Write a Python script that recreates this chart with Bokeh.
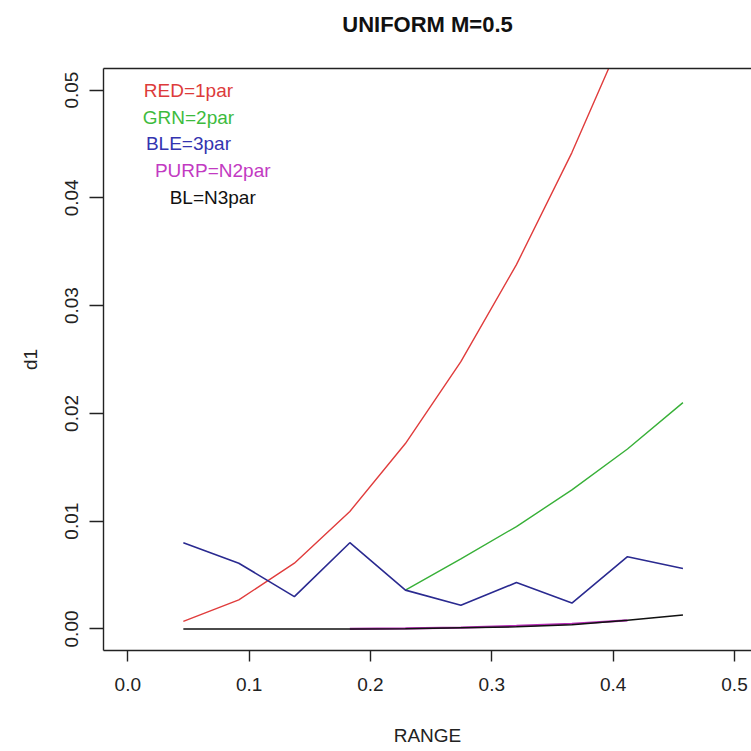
from bokeh.plotting import figure
from bokeh.models import Range1d, LinearAxis, FixedTicker, PrintfTickFormatter, ColumnDataSource, Title
from bokeh.core.properties import value
from bokeh.embed import file_html
from bokeh.resources import INLINE

# ---- data ----
range_x = [0.0458, 0.0915, 0.1373, 0.1830, 0.2288, 0.2745, 0.3203, 0.3660, 0.4118, 0.4575]
red_1par = [0.0007, 0.0027, 0.0061, 0.0109, 0.0172, 0.0248, 0.0338, 0.0442, 0.0560, 0.0690]
blue_3par = [0.0080, 0.0061, 0.0030, 0.0080, 0.0036, 0.0022, 0.0043, 0.0024, 0.0067, 0.0056]
green_x = [0.2288, 0.2745, 0.3203, 0.3660, 0.4118, 0.4575]
green_2par = [0.0036, 0.0065, 0.0095, 0.0129, 0.0167, 0.0210]
purple_x = [0.1830, 0.2288, 0.2745, 0.3203, 0.3660, 0.4118]
purple_n2par = [0.0000, 0.00005, 0.00012, 0.00028, 0.00048, 0.0008]
black_n3par = [0.0, 0.0, 0.0, 0.0, 0.00002, 0.0001, 0.0002, 0.0004, 0.0008, 0.0013]

x_ticks = [0.0, 0.1, 0.2, 0.3, 0.4, 0.5]
y_ticks = [0.0, 0.01, 0.02, 0.03, 0.04, 0.05]

title_text = "UNIFORM M=0.5"
legend_labels = ["RED=1par", "GRN=2par", "BLE=3par", "PURP=N2par", "BL=N3par"]
legend_x = [0.05, 0.05, 0.05, 0.07, 0.07]
legend_y = [0.05, 0.0475, 0.045, 0.0425, 0.04]
legend_colors = ["#dd3b3b", "#3dbb3d", "#3434b0", "#c23ac2", "#111111"]

FONT = "Liberation Sans"

p = figure(width=751, height=751, output_backend="svg", toolbar_location=None,
           x_range=Range1d(-0.02, 0.514), y_range=Range1d(-0.002, 0.052),
           min_border_left=103, min_border_right=0, min_border_top=68, min_border_bottom=101)
p.outline_line_color = None
p.xgrid.visible = False
p.ygrid.visible = False
p.background_fill_color = "white"
p.border_fill_color = "white"

p.title.text = title_text
p.title.align = "center"
p.title.text_font = FONT
p.title.text_font_size = "22px"
p.title.text_font_style = "bold"
p.title.text_color = "#111111"
p.title.standoff = 0

for ax, ticks, fmt, lab, tick_len in ((p.xaxis[0], x_ticks, "%.1f", "RANGE", 11),
                                      (p.yaxis[0], y_ticks, "%.2f", "d1", 14)):
    ax.ticker = FixedTicker(ticks=ticks)
    ax.formatter = PrintfTickFormatter(format=fmt)
    ax.major_tick_out = tick_len
    ax.major_tick_in = 0
    ax.minor_tick_out = 0
    ax.minor_tick_in = 0
    ax.axis_line_color = "#222222"
    ax.axis_line_width = 1.4
    ax.major_tick_line_color = "#222222"
    ax.major_tick_line_width = 1.4
    ax.major_label_text_font = FONT
    ax.major_label_text_font_size = "19px"
    ax.major_label_text_color = "#222222"
    ax.axis_label = lab
    ax.axis_label_text_font = FONT
    ax.axis_label_text_font_size = "19px"
    ax.axis_label_text_font_style = "normal"
    ax.axis_label_text_color = "#222222"

p.xaxis.major_label_standoff = 16
p.xaxis.axis_label_standoff = 31
p.yaxis.major_label_standoff = 11
p.yaxis.axis_label_standoff = 22
p.yaxis.major_label_orientation = "vertical"

top = LinearAxis(ticker=FixedTicker(ticks=[]), major_tick_out=0, major_tick_in=0,
                 minor_tick_out=0, minor_tick_in=0, major_label_text_alpha=0,
                 axis_line_color="#222222", axis_line_width=1.4)
p.add_layout(top, "above")
# blank spacer between the box and the main title (R puts the title well above the box)
p.add_layout(Title(text=" ", text_font_size="27px", standoff=0), "above")

# ---- series ----
p.line(range_x, red_1par, line_color="#e03c3c", line_width=1.4)
p.line(green_x, green_2par, line_color="#38b038", line_width=1.4)
p.line(range_x, blue_3par, line_color="#2a2a90", line_width=1.6)
p.line(purple_x, purple_n2par, line_color="#b52cb5", line_width=2.2)
p.line(range_x, black_n3par, line_color="#111111", line_width=1.5)

src = ColumnDataSource(dict(x=legend_x, y=legend_y, t=legend_labels, c=legend_colors))
p.text(x="x", y="y", text="t", text_color="c", source=src, text_align="center",
       text_baseline="middle", text_font=value(FONT), text_font_size="19px")

open("out.html", "w").write(file_html(p, INLINE))
